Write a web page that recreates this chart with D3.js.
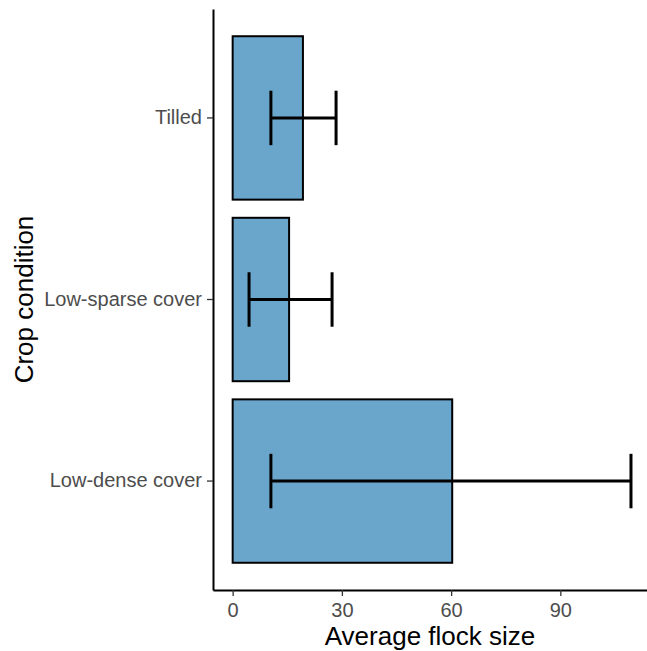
<html>
<head>
  <meta charset="utf-8">
  <title>Average flock size by crop condition</title>
  <script src="https://d3js.org/d3.v7.min.js"></script>
  <style>
    body { margin: 0; background: #fff; }
    text { font-family: "Liberation Sans", Arial, sans-serif; }
  </style>
</head>
<body>
<div id="chart"></div>
<script>
// data
var categories = ["Tilled", "Low-sparse cover", "Low-dense cover"];
var meanSize   = [19.3, 15.5, 60.3];
var errLow     = [10.5, 4.5, 10.5];
var errHigh    = [28.4, 27.3, 109.4];
var xTicks     = [0, 30, 60, 90];

var wth = 647, ht = 651;

var svg = d3.select("#chart")
  .append("svg")
    .attr("width", wth)
    .attr("height", ht);

// scales
var x = d3.scaleLinear()
  .domain([-5.4, 113.8])
  .range([213, 647]);

var y = d3.scaleBand()
  .domain(categories)
  .range([9, 590])
  .paddingInner(0.1)
  .paddingOuter(0.15);

var rows = categories.map(function(c, i) {
  return { cat: c, mean: meanSize[i], lo: errLow[i], hi: errHigh[i] };
});

// bars
svg.selectAll(".bar")
  .data(rows)
  .enter()
  .append("rect")
    .attr("class", "bar")
    .attr("x", x(0))
    .attr("y", function(d) { return y(d.cat); })
    .attr("width", function(d) { return x(d.mean) - x(0); })
    .attr("height", y.bandwidth())
    .attr("fill", "#6aa5cc")
    .attr("stroke", "black")
    .attr("stroke-width", 2);

// error bars
var capH = y.step() * 0.3;
var eb = svg.selectAll(".err")
  .data(rows)
  .enter()
  .append("g")
    .attr("class", "err")
    .attr("stroke", "black")
    .attr("stroke-width", 3);

eb.append("line")
  .attr("x1", function(d) { return x(d.lo); })
  .attr("x2", function(d) { return x(d.hi); })
  .attr("y1", function(d) { return y(d.cat) + y.bandwidth() / 2; })
  .attr("y2", function(d) { return y(d.cat) + y.bandwidth() / 2; });

eb.append("line")
  .attr("x1", function(d) { return x(d.lo); })
  .attr("x2", function(d) { return x(d.lo); })
  .attr("y1", function(d) { return y(d.cat) + y.bandwidth() / 2 - capH / 2; })
  .attr("y2", function(d) { return y(d.cat) + y.bandwidth() / 2 + capH / 2; });

eb.append("line")
  .attr("x1", function(d) { return x(d.hi); })
  .attr("x2", function(d) { return x(d.hi); })
  .attr("y1", function(d) { return y(d.cat) + y.bandwidth() / 2 - capH / 2; })
  .attr("y2", function(d) { return y(d.cat) + y.bandwidth() / 2 + capH / 2; });

// x axis
var xAxis = svg.append("g")
  .attr("transform", "translate(0,590)")
  .call(d3.axisBottom(x).tickValues(xTicks).tickSize(6).tickPadding(7).tickSizeOuter(0));
xAxis.select(".domain").attr("stroke", "black").attr("stroke-width", 2);
xAxis.selectAll(".tick line").attr("stroke", "#333").attr("stroke-width", 1.3);
xAxis.selectAll("text").attr("fill", "#4d4d4d").style("font-size", "20px");

// y axis
var yAxis = svg.append("g")
  .attr("transform", "translate(213,0)")
  .call(d3.axisLeft(y).tickSize(6).tickPadding(5).tickSizeOuter(0));
yAxis.select(".domain").attr("stroke", "black").attr("stroke-width", 2);
yAxis.selectAll(".tick line").attr("stroke", "#333").attr("stroke-width", 1.3);
yAxis.selectAll("text").attr("fill", "#4d4d4d").style("font-size", "20px");

// axis titles
svg.append("text")
  .attr("x", (213 + 647) / 2)
  .attr("y", 645)
  .attr("text-anchor", "middle")
  .style("font-size", "26px")
  .text("Average flock size");

svg.append("text")
  .attr("transform", "translate(33," + (9 + 590) / 2 + ") rotate(-90)")
  .attr("text-anchor", "middle")
  .style("font-size", "26px")
  .text("Crop condition");
</script>
</body>
</html>
